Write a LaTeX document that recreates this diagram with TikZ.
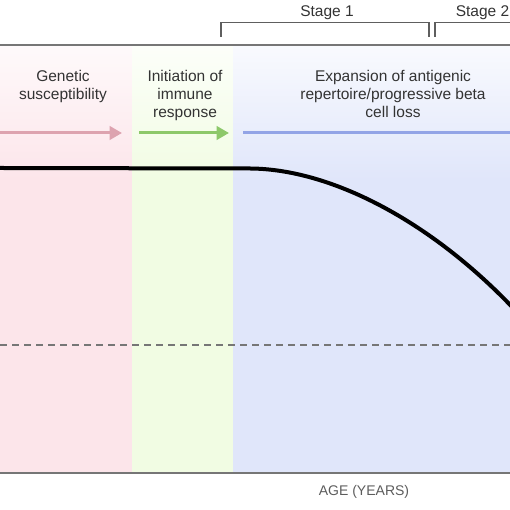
\documentclass[tikz,border=0pt]{standalone}
\usepackage{fontspec}
\setmainfont{Liberation Sans}
\usepackage{tikz}
\usetikzlibrary{arrows.meta}
\usetikzlibrary{positioning}
\definecolor{pinkbg}{HTML}{FCE5EA}
\definecolor{greenbg}{HTML}{F1FCE3}
\definecolor{bluebg}{HTML}{E0E6FA}
\definecolor{pinkarrow}{HTML}{DDA3AF}
\definecolor{greenarrow}{HTML}{8DC86A}
\definecolor{bluearrow}{HTML}{93A4E6}
\definecolor{labelgray}{HTML}{333333}
\definecolor{linegray}{HTML}{767676}
\newcommand{\band}[3]{\fill[#1] (#2,37) rectangle (#3,330);
  \shade[top color=#1!20, bottom color=#1] (#2,330) rectangle (#3,465)}
\newcommand{\stagebracket}[2]{\draw[bracket] (#1) -- ++(0,14.5) -| (#2)}

\begin{document}
\begin{tikzpicture}[
        x=1pt, y=1pt,
        every node/.style={font=\fontsize{15.5}{18}\selectfont, text=labelgray},
        phase/.style={align=center, inner sep=0pt, anchor=north},
        stage/.style={inner sep=0pt, anchor=north},
        bracket/.style={draw=linegray!80!black, line width=1.3pt},
        frame/.style={draw=linegray, line width=2pt},
        progress/.style={line width=3pt, -{Triangle[length=12.5pt,width=13.5pt]}},
        level/.style={draw=black, line width=4pt},
        threshold/.style={draw=linegray, line width=2.5pt, dash pattern=on 6.5pt off 5.5pt}
      ]
      \useasboundingbox (0,0) rectangle (510,510);
      \clip (0,0) rectangle (510,510);
      % background bands
      \band{pinkbg}{0}{132};
      \band{greenbg}{132}{233};
      \band{bluebg}{233}{510};
      \draw[frame] (0,465) -- (510,465);
      \draw[frame] (0,37) -- (510,37);
      % stages
      \coordinate (s1a) at (221,473);
      \coordinate (s1b) at (429,473);
      \coordinate (s2a) at (435,473);
      \coordinate (s2b) at (540,473);
      \stagebracket{s1a}{s1b};
      \stagebracket{s2a}{s2b};
      \node (stage1)[stage] at (327,505) {Stage 1};
      \node (stage2)[stage] at (482.5,505) {Stage 2};
      % phases
      \node (genetic)[phase] at (63,439.5) {Genetic\\susceptibility};
      \node (initiation)[phase] at (185,439.5) {Initiation of\\immune\\response};
      \node (expansion)[phase] at (393,439.5) {Expansion of antigenic\\repertoire/progressive beta\\cell loss};
      \coordinate (ga) at (0,377);
      \coordinate (gb) at (122,377);
      \coordinate (ia) at (139,377);
      \coordinate (ib) at (229,377);
      \coordinate (ea) at (243,377);
      \coordinate (eb) at (520,377);
      \draw[progress, pinkarrow] (ga) -- (gb);
      \draw[progress, greenarrow] (ia) -- (ib);
      \draw[line width=3pt, bluearrow] (ea) -- (eb);
      % beta cell mass
      \draw[level] (0,342) -- (250,341.5) .. controls (330,341) and (430,290) .. (515,200);
      \draw[threshold] (0,165) -- (510,165);
      \node (age)[font=\fontsize{14}{16}\selectfont, text=labelgray!80, inner sep=0pt] at (364,18.5) {AGE (YEARS)};
    \end{tikzpicture}
\end{document}
